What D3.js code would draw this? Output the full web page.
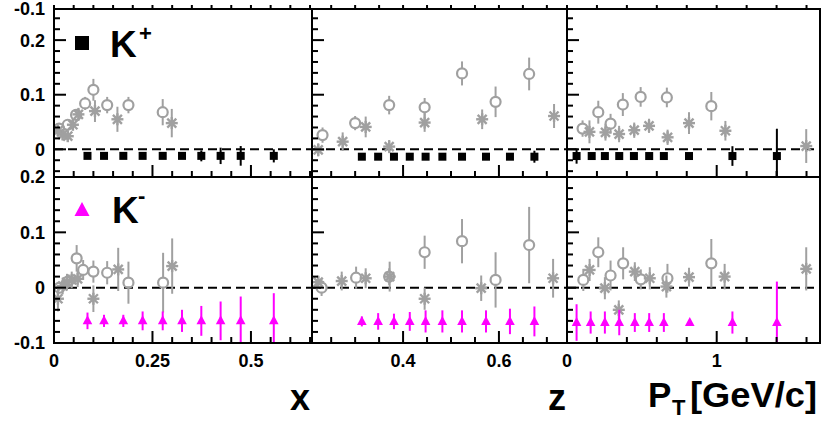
<!DOCTYPE html>
<html><head><meta charset="utf-8">
<script src="https://cdn.jsdelivr.net/npm/d3@7"></script>
<style>
body{margin:0;background:#fff}
svg{display:block}
text{font-family:"Liberation Sans",Arial,Helvetica,sans-serif;font-weight:bold;fill:#000}
</style>
</head><body>
<svg id="c" width="821" height="421"></svg>
<script>
// ---------------- DATA ----------------
// each point: [abscissa, asymmetry, error]
// K+ , x
const Kp_x_main = [[0.085,-0.012,0.004],[0.127,-0.012,0.004],[0.176,-0.012,0.004],[0.225,-0.012,0.004],[0.276,-0.012,0.004],[0.325,-0.012,0.005],[0.374,-0.012,0.010],[0.423,-0.012,0.015],[0.474,-0.012,0.018],[0.558,-0.012,0.012]];
const Kp_x_circ = [[0.013,0.038,0.008],[0.035,0.045,0.008],[0.056,0.063,0.010],[0.079,0.084,0.012],[0.100,0.109,0.020],[0.135,0.081,0.015],[0.189,0.081,0.015],[0.276,0.068,0.024]];
const Kp_x_star = [[0.010,0.034,0.010],[0.022,0.027,0.010],[0.035,0.024,0.010],[0.048,0.045,0.010],[0.062,0.064,0.012],[0.104,0.070,0.020],[0.161,0.055,0.023],[0.299,0.048,0.026]];
// K+ , z
const Kp_z_main = [[0.314,-0.0135,0.004],[0.348,-0.0135,0.004],[0.381,-0.0135,0.004],[0.414,-0.0135,0.004],[0.447,-0.0135,0.004],[0.482,-0.0135,0.004],[0.523,-0.0135,0.004],[0.573,-0.0135,0.004],[0.623,-0.0135,0.004],[0.674,-0.0135,0.011]];
const Kp_z_circ = [[0.232,0.026,0.014],[0.300,0.048,0.013],[0.371,0.081,0.017],[0.445,0.077,0.017],[0.523,0.139,0.022],[0.593,0.087,0.028],[0.663,0.138,0.030]];
const Kp_z_star = [[0.223,-0.001,0.012],[0.274,0.014,0.017],[0.322,0.041,0.019],[0.371,0.005,0.012],[0.445,0.049,0.017],[0.565,0.055,0.018],[0.715,0.061,0.022]];
// K+ , pT
const Kp_pt_main = [[0.064,-0.0123,0.014],[0.165,-0.0123,0.004],[0.253,-0.0123,0.004],[0.349,-0.0123,0.004],[0.447,-0.0123,0.004],[0.549,-0.0123,0.004],[0.647,-0.0123,0.004],[0.815,-0.0123,0.004],[1.105,-0.0123,0.018],[1.402,-0.0123,0.050]];
const Kp_pt_circ = [[0.104,0.038,0.015],[0.209,0.068,0.021],[0.291,0.047,0.018],[0.373,0.082,0.021],[0.492,0.096,0.018],[0.667,0.095,0.018],[0.964,0.079,0.026]];
const Kp_pt_star = [[0.150,0.032,0.021],[0.257,0.031,0.015],[0.348,0.028,0.015],[0.449,0.035,0.014],[0.548,0.043,0.013],[0.672,0.022,0.014],[0.815,0.048,0.020],[1.058,0.034,0.018],[1.598,0.006,0.031]];
// K- , x
const Km_x_main = [[0.085,-0.060,0.015],[0.127,-0.060,0.011],[0.176,-0.060,0.011],[0.225,-0.060,0.017],[0.276,-0.060,0.017],[0.325,-0.060,0.020],[0.374,-0.060,0.027],[0.423,-0.060,0.035],[0.474,-0.060,0.044],[0.558,-0.060,0.050]];
const Km_x_circ = [[0.014,0.000,0.010],[0.037,0.012,0.012],[0.0575,0.053,0.024],[0.074,0.032,0.018],[0.100,0.029,0.020],[0.135,0.027,0.021],[0.189,0.009,0.038],[0.277,0.009,0.054]];
const Km_x_star = [[0.010,-0.020,0.023],[0.022,0.003,0.015],[0.033,0.010,0.015],[0.045,0.014,0.015],[0.060,0.016,0.015],[0.100,-0.020,0.024],[0.163,0.033,0.039],[0.300,0.039,0.050]];
// K- , z
const Km_z_main = [[0.314,-0.061,0.009],[0.348,-0.061,0.015],[0.381,-0.061,0.014],[0.414,-0.061,0.017],[0.447,-0.061,0.020],[0.482,-0.061,0.020],[0.523,-0.061,0.020],[0.573,-0.061,0.020],[0.623,-0.061,0.023],[0.674,-0.061,0.027]];
const Km_z_circ = [[0.230,0.000,0.015],[0.302,0.018,0.020],[0.371,0.020,0.015],[0.445,0.064,0.030],[0.523,0.084,0.040],[0.593,0.014,0.050],[0.663,0.077,0.069]];
const Km_z_star = [[0.223,0.010,0.012],[0.272,0.012,0.017],[0.322,0.017,0.018],[0.372,0.020,0.027],[0.445,-0.020,0.020],[0.563,-0.001,0.023],[0.713,0.017,0.035]];
// K- , pT
const Km_pt_main = [[0.064,-0.063,0.033],[0.158,-0.063,0.020],[0.253,-0.063,0.020],[0.349,-0.063,0.023],[0.453,-0.063,0.017],[0.549,-0.063,0.017],[0.647,-0.063,0.017],[0.820,-0.063,0.004],[1.105,-0.063,0.020],[1.402,-0.063,0.074]];
const Km_pt_circ = [[0.109,0.014,0.020],[0.209,0.064,0.027],[0.291,0.022,0.027],[0.375,0.044,0.029],[0.493,0.015,0.018],[0.671,0.017,0.026],[0.964,0.044,0.044]];
const Km_pt_star = [[0.151,0.032,0.020],[0.253,-0.001,0.020],[0.346,-0.040,0.017],[0.453,0.029,0.017],[0.553,0.017,0.020],[0.664,0.002,0.020],[0.815,0.019,0.017],[1.053,0.020,0.023],[1.598,0.034,0.039]];

// tick labels
const xMajor = [0, 0.25, 0.5];      const xTickLabels = ["0", "0.25", "0.5"];
const zMajor = [0.4, 0.6];          const zTickLabels = ["0.4", "0.6"];
const ptMajor = [0, 1];             const ptTickLabels = ["0", "1"];
const yMajor = [-0.1, 0, 0.1, 0.2]; const yTickLabels = ["-0.1", "0", "0.1", "0.2"];
const rowLabels = ["K", "K"];
const rowCharges = ["+", "-"];

// ---------------- LAYOUT ----------------
const svg = d3.select("#c");
const GRAY = "#a0a0a0", MAG = "#ff00ff";
const cols = [
  {x0:54,  x1:312, domain:[0,0.655],   major:xMajor,  labels:xTickLabels,  minor:0.05},
  {x0:312, x1:567, domain:[0.21,0.742],major:zMajor,  labels:zTickLabels,  minor:0.05},
  {x0:567, x1:820, domain:[0,1.69],    major:ptMajor, labels:ptTickLabels, minor:0.2}
];
const rows = [
  {y0:9,   y1:177, domain:[-0.0507,0.257], data:[[Kp_x_main,Kp_x_circ,Kp_x_star],[Kp_z_main,Kp_z_circ,Kp_z_star],[Kp_pt_main,Kp_pt_circ,Kp_pt_star]], marker:"square", color:"#000"},
  {y0:177, y1:343, domain:[-0.1,0.2],      data:[[Km_x_main,Km_x_circ,Km_x_star],[Km_z_main,Km_z_circ,Km_z_star],[Km_pt_main,Km_pt_circ,Km_pt_star]], marker:"triangle", color:MAG}
];
cols.forEach(c => {
  c.scale = d3.scaleLinear().domain(c.domain).range([c.x0, c.x1]);
  const st = c.minor, ticks = [];
  for (let k = Math.ceil(c.domain[0]/st - 1e-9); k*st <= c.domain[1] + 1e-9; k++) ticks.push(+(k*st).toFixed(4));
  c.minorTicks = ticks;
});
rows.forEach(r => {
  r.scale = d3.scaleLinear().domain(r.domain).range([r.y1, r.y0]);
  const ticks = [];
  for (let k = Math.ceil(r.domain[0]/0.02 - 1e-9); k*0.02 <= r.domain[1] + 1e-9; k++) ticks.push(+(k*0.02).toFixed(4));
  r.minorTicks = ticks;
});
const isMajor = (v, list) => list.some(m => Math.abs(m - v) < 1e-6);
const defs = svg.append("defs");

function star(g, x, y) {
  const L = 6;
  const s = g.append("g").attr("transform", `translate(${x},${y})`).attr("stroke", GRAY).attr("stroke-width", 2.4);
  [[0,-L,0,L],[-L,0,L,0],[-L*0.75,-L*0.75,L*0.75,L*0.75],[-L*0.75,L*0.75,L*0.75,-L*0.75]].forEach(p =>
    s.append("line").attr("x1",p[0]).attr("y1",p[1]).attr("x2",p[2]).attr("y2",p[3]));
  s.append("circle").attr("r", 2.8).attr("fill", GRAY).attr("stroke", "none");
}

rows.forEach((r, ri) => {
  cols.forEach((c, ci) => {
    const id = `clip${ri}${ci}`;
    defs.append("clipPath").attr("id", id).append("rect")
      .attr("x", c.x0).attr("y", r.y0).attr("width", c.x1 - c.x0).attr("height", r.y1 - r.y0);
    const g = svg.append("g").attr("clip-path", `url(#${id})`);
    const xs = c.scale, ys = r.scale;
    const [mainD, circD, starD] = r.data[ci];

    g.append("line").attr("x1", c.x0).attr("x2", c.x1).attr("y1", ys(0)).attr("y2", ys(0))
      .attr("stroke", "#000").attr("stroke-width", 2).attr("stroke-dasharray", "9,5");

    starD.forEach(d => {
      g.append("line").attr("x1", xs(d[0])).attr("x2", xs(d[0])).attr("y1", ys(d[1]+d[2])).attr("y2", ys(d[1]-d[2]))
        .attr("stroke", GRAY).attr("stroke-width", 2);
      star(g, xs(d[0]), ys(d[1]));
    });
    const R = 5;
    circD.forEach(d => {
      const cx = xs(d[0]), cy = ys(d[1]);
      const top = ys(d[1]+d[2]), bot = ys(d[1]-d[2]);
      if (top < cy - R) g.append("line").attr("x1", cx).attr("x2", cx).attr("y1", top).attr("y2", cy - R).attr("stroke", GRAY).attr("stroke-width", 2);
      if (bot > cy + R) g.append("line").attr("x1", cx).attr("x2", cx).attr("y1", cy + R).attr("y2", bot).attr("stroke", GRAY).attr("stroke-width", 2);
      g.append("circle").attr("cx", cx).attr("cy", cy).attr("r", R).attr("fill", "none").attr("stroke", GRAY).attr("stroke-width", 2.2);
    });
    mainD.forEach(d => {
      const cx = xs(d[0]), cy = ys(d[1]);
      g.append("line").attr("x1", cx).attr("x2", cx).attr("y1", ys(d[1]+d[2])).attr("y2", ys(d[1]-d[2]))
        .attr("stroke", r.color).attr("stroke-width", 2);
      if (r.marker === "square") {
        g.append("rect").attr("x", cx - 4).attr("y", cy - 4).attr("width", 8).attr("height", 8).attr("fill", "#000");
      } else {
        g.append("path").attr("d", `M${cx},${cy-5.5}L${cx+4.8},${cy+3.5}L${cx-4.8},${cy+3.5}Z`).attr("fill", MAG);
      }
    });
  });
});

// frames & ticks
const axes = svg.append("g").attr("stroke", "#000").attr("fill", "none");
rows.forEach(r => {
  cols.forEach(c => {
    axes.append("rect").attr("x", c.x0).attr("y", r.y0).attr("width", c.x1 - c.x0).attr("height", r.y1 - r.y0).attr("stroke-width", 2);
    r.minorTicks.forEach(v => {
      const len = isMajor(v, yMajor) ? 12 : 6;
      axes.append("line").attr("x1", c.x0).attr("x2", c.x0 + len).attr("y1", r.scale(v)).attr("y2", r.scale(v)).attr("stroke-width", 2);
    });
    c.minorTicks.forEach(v => {
      const len = isMajor(v, c.major) ? 12 : 6;
      axes.append("line").attr("x1", c.scale(v)).attr("x2", c.scale(v)).attr("y1", r.y1).attr("y2", r.y1 - len).attr("stroke-width", 2);
    });
  });
});
cols.forEach(c => c.minorTicks.forEach(v => {
  axes.append("line").attr("x1", c.scale(v)).attr("x2", c.scale(v)).attr("y1", 9).attr("y2", 5).attr("stroke-width", 2);
}));

// labels
const FS = 18;
function label(x, y, txt, anchor, size) {
  return svg.append("text").attr("x", x).attr("y", y).attr("text-anchor", anchor).attr("font-size", size).text(txt);
}
[[0.2,"0.2"],[0.1,"0.1"],[0,"0"]].forEach(([v,t]) => label(45, rows[0].scale(v), t, "end", FS).attr("dy", "0.36em"));
label(45, rows[0].y0, yTickLabels[0], "end", FS).attr("dy", "0.36em");
yMajor.forEach((v, i) => label(45, rows[1].scale(v), yTickLabels[i], "end", FS).attr("dy", "0.36em"));

cols.forEach(c => c.major.forEach((v, i) => label(c.scale(v), 367, c.labels[i], "middle", FS)));

// axis titles
label(300, 410, "x", "middle", 36);
label(557, 410, "z", "middle", 36);
label(648, 407, "P", "start", 35);
label(672, 415, "T", "start", 22);
svg.append("text").attr("x", 690).attr("y", 407).attr("font-size", 35)
  .attr("textLength", 127).attr("lengthAdjust", "spacingAndGlyphs").text("[GeV/c]");

// legends
svg.append("rect").attr("x", 75).attr("y", 36).attr("width", 14).attr("height", 14).attr("fill", "#000");
label(110, 57, rowLabels[0], "start", 37);
label(139, 41, rowCharges[0], "start", 22);
svg.append("path").attr("d", "M82,202L89.5,216L74.5,216Z").attr("fill", MAG);
label(112, 223, rowLabels[1], "start", 37);
label(138, 203, rowCharges[1], "start", 22);
</script>
</body></html>
